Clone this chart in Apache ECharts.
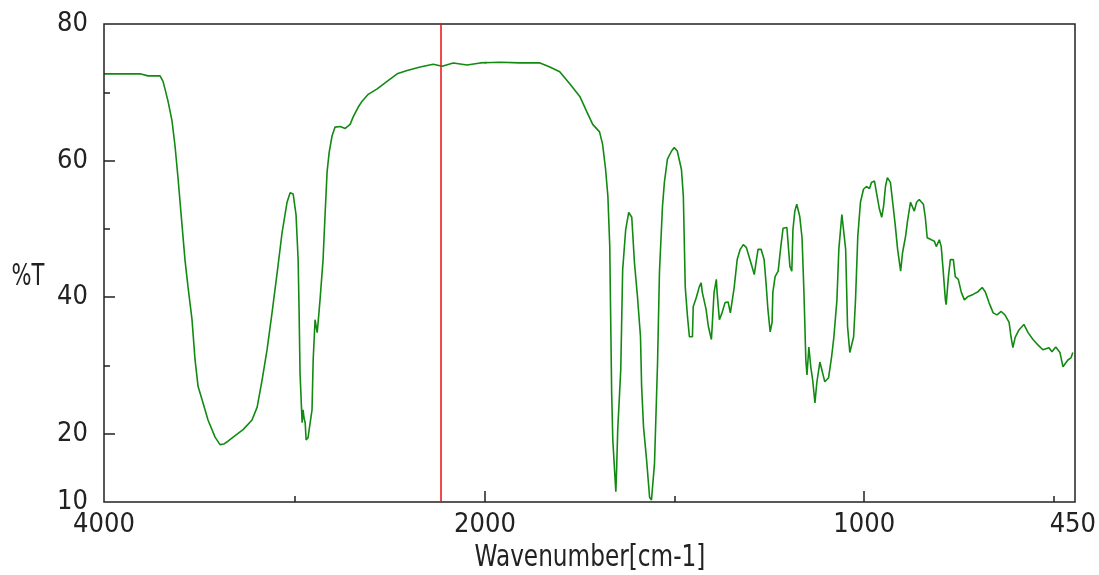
<!DOCTYPE html>
<html>
<head>
<meta charset="utf-8">
<script src="https://cdn.jsdelivr.net/npm/echarts@6/dist/echarts.min.js"></script>
<style>
  html, body { margin: 0; padding: 0; background: #ffffff; }
  #chart { width: 1099px; height: 575px; }
</style>
</head>
<body>
<div id="chart"></div>
<script>
// IR spectrum: wavenumber (cm-1) against transmittance (%T)
const wavenumber = [
  4000, 3890, 3811, 3769, 3706, 3690, 3680, 3664, 3643, 3627, 3611, 3590, 3575, 3559, 3538, 3522,
  3506, 3480, 3454, 3417, 3391, 3370, 3349, 3322, 3270, 3223, 3196, 3170, 3144, 3118, 3091, 3065,
  3039, 3023, 3007, 2992, 2981, 2976, 2971, 2960, 2955, 2950, 2944, 2939, 2929, 2923, 2908, 2902,
  2892, 2881, 2876, 2866, 2850, 2839, 2829, 2818, 2803, 2787, 2760, 2734, 2708, 2692, 2666, 2645,
  2613, 2566, 2514, 2461, 2409, 2340, 2272, 2225, 2167, 2094, 2025, 1960, 1908, 1855, 1829, 1803,
  1776, 1750, 1732, 1716, 1698, 1690, 1682, 1676, 1671, 1669, 1666, 1663, 1658, 1655, 1653, 1650,
  1642, 1637, 1629, 1621, 1613, 1606, 1598, 1590, 1587, 1582, 1574, 1566, 1561, 1553, 1545, 1540,
  1532, 1527, 1519, 1508, 1501, 1493, 1482, 1477, 1472, 1466, 1461, 1453, 1451, 1443, 1435, 1430,
  1427, 1417, 1411, 1403, 1401, 1396, 1390, 1388, 1382, 1375, 1367, 1359, 1353, 1348, 1343, 1335,
  1327, 1319, 1311, 1304, 1296, 1290, 1285, 1280, 1272, 1264, 1259, 1254, 1248, 1243, 1241, 1235,
  1227, 1220, 1214, 1204, 1196, 1191, 1188, 1183, 1178, 1170, 1164, 1159, 1154, 1151, 1146, 1141,
  1136, 1130, 1125, 1117, 1112, 1104, 1094, 1086, 1080, 1072, 1067, 1059, 1054, 1049, 1044, 1038,
  1033, 1028, 1023, 1017, 1010, 1002, 994, 986, 981, 973, 967, 960, 954, 949, 944, 939,
  931, 925, 918, 912, 904, 899, 891, 886, 878, 873, 868, 862, 855, 844, 839, 834,
  823, 815, 810, 802, 797, 792, 786, 784, 778, 773, 765, 760, 752, 744, 736, 726,
  713, 700, 689, 681, 671, 660, 650, 639, 629, 618, 613, 608, 602, 592, 579, 568,
  555, 542, 529, 513, 505, 495, 484, 476, 471, 463, 455, 450
];
const transmittance = [
  72.7, 72.7, 72.7, 72.4, 72.4, 71.6, 70.5, 68.7, 65.8, 62.1, 57.3, 50.4, 45.5, 41.5, 36.7, 30.8,
  26.9, 24.5, 22.0, 19.5, 18.4, 18.5, 18.9, 19.5, 20.6, 22.0, 23.9, 27.9, 32.3, 37.7, 43.6, 49.5,
  53.9, 55.3, 55.1, 52.1, 45.5, 38.2, 28.9, 21.6, 23.5, 22.3, 21.6, 19.1, 19.4, 20.6, 23.5, 30.8,
  36.7, 34.8, 36.3, 39.6, 45.5, 52.4, 58.3, 61.2, 63.6, 64.9, 65.0, 64.7, 65.3, 66.4, 67.8, 68.7,
  69.7, 70.5, 71.6, 72.7, 73.2, 73.7, 74.1, 73.8, 74.3, 74.0, 74.3, 74.4, 74.3, 74.3, 73.7, 73.0,
  71.2, 69.4, 67.2, 65.3, 64.2, 62.4, 58.7, 54.8, 47.4, 38.6, 26.0, 19.1, 14.3, 11.5, 14.7, 20.6,
  29.4, 44.0, 49.9, 52.4, 51.7, 45.1, 40.1, 34.2, 26.9, 21.0, 16.2, 10.7, 10.3, 15.7, 30.4, 43.6,
  53.3, 56.8, 60.2, 61.4, 61.9, 61.4, 58.7, 54.8, 41.5, 37.1, 34.2, 34.2, 38.6, 39.9, 41.5, 42.1,
  40.7, 38.2, 35.7, 33.8, 35.7, 40.7, 42.6, 40.7, 36.7, 37.7, 39.2, 39.3, 37.7, 37.7, 41.4, 45.5,
  47.0, 47.7, 47.3, 46.0, 44.5, 43.3, 45.2, 47.0, 47.0, 45.5, 42.1, 38.2, 34.9, 36.3, 40.7, 43.0,
  43.8, 47.4, 50.1, 50.2, 44.5, 43.8, 49.9, 52.6, 53.6, 51.8, 48.7, 40.7, 30.8, 28.6, 32.7, 29.8,
  27.9, 24.5, 27.5, 30.5, 29.4, 27.6, 28.2, 31.3, 34.2, 39.6, 47.0, 52.1, 52.1, 47.0, 35.7, 31.9,
  32.0, 34.2, 39.6, 48.9, 53.9, 55.8, 56.2, 55.9, 56.8, 57.0, 55.1, 52.9, 51.7, 53.3, 56.2, 57.5,
  56.8, 53.9, 50.4, 47.0, 43.8, 46.5, 48.9, 51.1, 53.9, 53.9, 52.6, 53.9, 54.3, 53.6, 51.7, 48.7,
  48.4, 48.2, 47.4, 48.4, 47.4, 44.0, 39.6, 38.9, 43.0, 45.5, 45.5, 43.0, 42.6, 40.7, 39.6, 40.1,
  40.4, 40.8, 41.4, 40.8, 39.2, 37.7, 37.4, 37.9, 37.4, 36.3, 34.2, 32.6, 34.1, 35.2, 36.0, 34.8,
  33.8, 33.0, 32.3, 32.6, 32.0, 32.7, 31.9, 29.8, 29.7, 30.8, 31.1, 31.9
];

// Cursor position drawn as a vertical marker
const cursorWavenumber = 2230;

// The wavenumber axis changes scale at 2000 cm-1 (upper range is compressed 2:1)
const scaleBreak = 2000;
const highRangeLabels = [4000];
const lowRangeLabels = [2000, 1000, 450];
const majorXTicks = [2000, 1000];
const minorXTicksHigh = [3000];
const minorXTicksLow = [1500, 500];
const yLabels = [10, 20, 40, 60, 80];
const majorYTicks = [20, 40, 60];
const minorYTicks = [30, 50, 70];

const pairs = wavenumber.map((w, i) => [w, transmittance[i]]);
const firstBelow = wavenumber.findIndex(w => w < scaleBreak);
const highRange = pairs.slice(0, firstBelow + 1);
const lowRange = pairs.slice(firstBelow - 1);

const ink = '#222222';
const fontFamily = '"DejaVu Sans Condensed", "DejaVu Sans", sans-serif';
const plainNumber = v => String(v);
const labelStyle = { color: ink, fontSize: 27, fontFamily: fontFamily, formatter: plainNumber };

const chart = echarts.init(document.getElementById('chart'), null, { renderer: 'canvas' });

const hiddenAxis = { show: false };
const lineColor = '#128a12';
const tickStyle = { color: ink, width: 1.5 };

chart.setOption({
  animation: false,
  backgroundColor: '#ffffff',
  grid: [
    { left: 104, top: 24, width: 381, height: 478, show: false },
    { left: 485, top: 24, width: 590, height: 478, show: false },
    { left: 104, top: 24, width: 971, height: 478, show: true, borderColor: ink, borderWidth: 1.5, backgroundColor: 'transparent', z: 5 }
  ],
  xAxis: [
    {
      gridIndex: 0, type: 'value', min: scaleBreak, max: 4000, inverse: true, position: 'bottom',
      axisLine: { show: false }, splitLine: { show: false },
      axisTick: { show: true, inside: true, length: 6, customValues: minorXTicksHigh, lineStyle: tickStyle },
      axisLabel: { show: true, customValues: highRangeLabels, margin: 9, ...labelStyle }
    },
    {
      gridIndex: 1, type: 'value', min: 450, max: scaleBreak, inverse: true, position: 'bottom',
      axisLine: { show: false }, splitLine: { show: false },
      axisTick: { show: true, inside: true, length: 11, customValues: majorXTicks, lineStyle: tickStyle },
      axisLabel: { show: true, customValues: lowRangeLabels, margin: 9, ...labelStyle }
    },
    {
      gridIndex: 1, type: 'value', min: 450, max: scaleBreak, inverse: true, position: 'bottom',
      axisLine: { show: false }, splitLine: { show: false },
      axisTick: { show: true, inside: true, length: 6, customValues: minorXTicksLow, lineStyle: tickStyle },
      axisLabel: { show: false }
    },
    { gridIndex: 2, type: 'value', min: 0, max: 1, ...hiddenAxis }
  ],
  yAxis: [
    {
      gridIndex: 0, type: 'value', min: 10, max: 80, position: 'left',
      axisLine: { show: false }, splitLine: { show: false },
      axisTick: { show: true, inside: true, length: 11, customValues: majorYTicks, lineStyle: tickStyle },
      axisLabel: { show: true, customValues: yLabels, margin: 16, ...labelStyle }
    },
    {
      gridIndex: 0, type: 'value', min: 10, max: 80, position: 'left',
      axisLine: { show: false }, splitLine: { show: false },
      axisTick: { show: true, inside: true, length: 6, customValues: minorYTicks, lineStyle: tickStyle },
      axisLabel: { show: false }
    },
    { gridIndex: 1, type: 'value', min: 10, max: 80, ...hiddenAxis },
    { gridIndex: 2, type: 'value', min: 0, max: 1, ...hiddenAxis }
  ],
  series: [
    {
      type: 'line', xAxisIndex: 0, yAxisIndex: 0, data: highRange,
      showSymbol: false, clip: true, silent: true,
      lineStyle: { color: lineColor, width: 1.6 },
      markLine: {
        silent: true, symbol: ['none', 'none'], animation: false,
        label: { show: false },
        lineStyle: { color: '#e81010', width: 1.5, type: 'solid' },
        data: [{ xAxis: cursorWavenumber }]
      }
    },
    {
      type: 'line', xAxisIndex: 1, yAxisIndex: 2, data: lowRange,
      showSymbol: false, clip: true, silent: true,
      lineStyle: { color: lineColor, width: 1.6 }
    }
  ],
  graphic: [
    {
      type: 'text', x: 28, y: 277, scaleX: 0.78,
      style: { text: '%T', fill: ink, fontSize: 30, fontFamily: fontFamily, align: 'center', verticalAlign: 'middle' }
    },
    {
      type: 'text', x: 590, y: 558, scaleX: 0.86,
      style: { text: 'Wavenumber[cm-1]', fill: ink, fontSize: 30, fontFamily: fontFamily, align: 'center', verticalAlign: 'middle' }
    }
  ]
});
</script>
</body>
</html>
